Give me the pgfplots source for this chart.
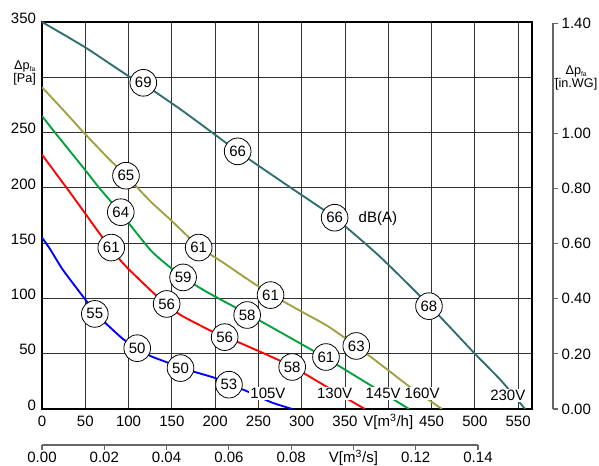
\documentclass[border=0pt]{standalone}
\usepackage{pgfplots}
\pgfplotsset{compat=1.18}
\usepackage{fontspec}
\setmainfont{Liberation Sans}
\newcommand\lbl{\fontsize{11.25}{13}\selectfont}
\newcommand\albl{\fontsize{9.5}{11}\selectfont}
\newcommand\sub[1]{\raisebox{-0.35ex}{\fontsize{5}{6}\selectfont #1}}
\definecolor{cteal}{RGB}{47,110,110}
\definecolor{colive}{RGB}{160,160,64}
\definecolor{cgreen}{RGB}{0,160,60}
\begin{document}
\begin{tikzpicture}
\useasboundingbox (-31.5pt,-42.75pt) rectangle (417.75pt,306.75pt);
% secondary right axis (in.WG)
\begin{axis}[scale only axis, width=383.25pt, height=289.3pt, at={(0,0)}, anchor=south west,
  xmin=0, xmax=1, ymin=0, ymax=1.4, axis x line=none, axis y line*=right,
  ytick={0,0.2,0.4,0.6,0.8,1.0,1.2,1.4},
  yticklabels={0.00,0.20,0.40,0.60,0.80,1.00,{\hspace*{-5pt}\albl\begin{tabular}{@{}c@{}}Δp\sub{fa}\\[-1pt] {[in.WG]}\end{tabular}},1.40},
  tick align=outside, major tick length=4pt,
  y axis line style={black!60, line width=0.8pt}, ytick style={black!60, line width=0.8pt},
  tick label style={font=\lbl}, yticklabel style={xshift=-1pt}]
\end{axis}
% secondary bottom axis (m3/s)
\begin{axis}[scale only axis, width=327pt, height=10pt, at={(0,-27pt)}, anchor=south west,
  xmin=0, xmax=0.14, ymin=0, ymax=1, axis y line=none, axis x line*=bottom,
  xtick={0,0.02,0.04,0.06,0.08,0.10,0.12,0.14},
  xticklabels={0.00,0.02,0.04,0.06,0.08,{V[m\textsuperscript{3}/s]},0.12,0.14},
  tick align=outside, major tick length=4pt,
  x axis line style={black!60, line width=0.8pt}, xtick style={black!60, line width=0.8pt},
  tick label style={font=\lbl}, xticklabel style={text height=1.6ex, text depth=0.25ex, yshift=2.5pt}]
\end{axis}
% main axis
\begin{axis}[scale only axis, width=367.5pt, height=290.25pt, at={(0,0)}, anchor=south west,
  xmin=0, xmax=566, ymin=0, ymax=350,
  xtick={0,50,100,150,200,250,300,350,400,450,500,550},
  xticklabels={0,50,100,150,200,250,300,350,{V[m\textsuperscript{3}/h]},450,500,550},
  ytick={0,50,100,150,200,250,300,350},
  yticklabels={0,50,100,150,200,250,{\albl\begin{tabular}{@{}c@{}}Δp\sub{fa}\\[-1pt] {[Pa]}\end{tabular}},350},
  grid=major, major grid style={black!80, line width=0.75pt},
  major tick length=0pt,
  axis line style={line width=1.6pt},
  tick label style={font=\lbl},
  xticklabel style={text height=1.6ex, text depth=0.3ex, yshift=-1pt},
  yticklabel style={yshift=3pt, xshift=-1pt},
  every axis plot/.append style={line width=1.4pt, smooth, tension=0.35},
  circ/.style={draw=none, mark=none, nodes near coords, point meta=explicit symbolic,
    every node near coord/.style={circle, draw=black, line width=0.6pt, fill=white, inner sep=0pt,
      minimum size=20pt, anchor=center, font=\lbl, text=black}},
  vlab/.style={draw=none, mark=none, nodes near coords, point meta=explicit symbolic,
    every node near coord/.style={fill=white, inner sep=1pt, anchor=center, font=\lbl, text=black}},
  ]
% 230V
\addplot[cteal] coordinates {(0,350)(50,327)(100,301)(117,294)(160,271)(200,248)(226,233)(280,204)(338,173)(390,138)(447,94)(500,50)(530,26)(558,0)};
% 160V
\addplot[colive] coordinates {(0,291)(25,270)(47,251)(75,228)(97,211)(125,188)(150,170)(181,147)(210,132)(240,116)(266,103)(300,88)(330,75)(363,57)(395,38)(425,20)(462,0)};
% 145V
\addplot[cgreen] coordinates {(0,265)(15,250)(50,216)(65,201)(90,178)(125,144)(145,130)(163,119)(190,106)(223,92)(249,81)(290,63)(328,46)(370,26)(424,0)};
% 130V
\addplot[red] coordinates {(0,230)(35,193)(70,155)(90,135)(102,125)(130,104)(144,95)(160,85)(197,70)(225,61)(260,49)(290,38)(329,20)(373,0)};
% 105V
\addplot[blue] coordinates {(0,155)(9,145)(24,126)(50,99)(61,88)(73,78)(94,63)(110,55)(125,48)(145,42)(160,37)(174,34)(200,28)(215,22)(234,17)(265,6)(289,0)};
% dB(A) circles
\addplot[circ] table[meta=lab] {
x y lab
117 295 69
226 233 66
338 173 66
447 93 68
97 211 65
181 146 61
264 103 61
363 57 63
91 178 64
163 119 59
237 85 58
328 47 61
80 146 61
144 95 56
211 65 56
289 38 58
61 86 55
110 55 50
160 37 50
216 22 53
};
% voltage labels
\addplot[vlab] table[meta=lab] {
x y lab
261 14 105V
338 14 130V
394 14 145V
439 14 160V
538 12 230V
};
\addplot[draw=none, mark=none, nodes near coords, point meta=explicit symbolic,
  every node near coord/.style={anchor=center, font=\lbl, text=black}] table[meta=lab] {
x y lab
388 172 dB(A)
};
\end{axis}
\end{tikzpicture}
\end{document}
